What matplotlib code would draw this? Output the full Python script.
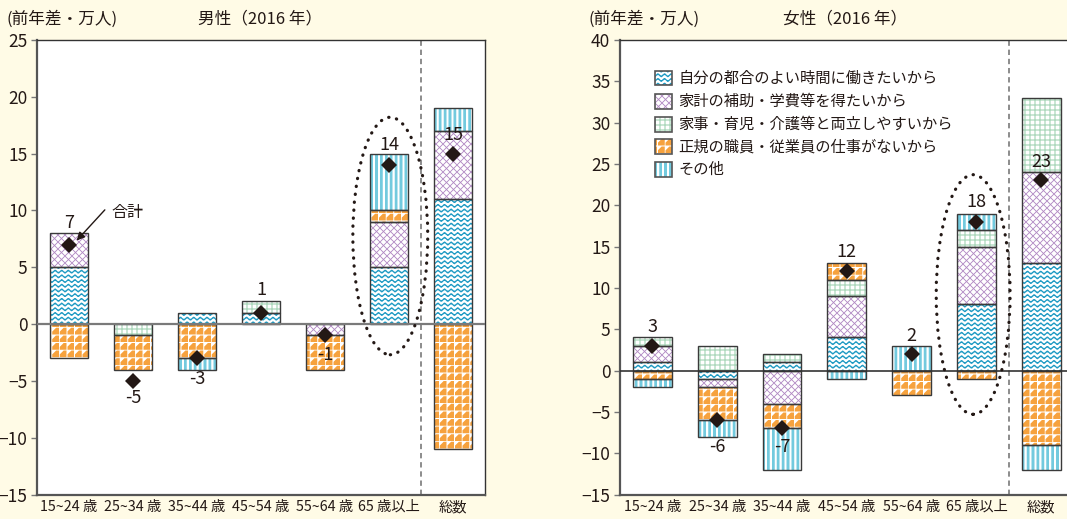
import numpy as np
import matplotlib
matplotlib.use("Agg")
import matplotlib.pyplot as plt
from matplotlib.path import Path
from matplotlib.patches import Ellipse, Rectangle

plt.rcParams["font.family"] = ["Noto Sans CJK JP", "DejaVu Sans"]

# ---------------------------------------------------------------- data
age_groups = ["15~24 歳", "25~34 歳", "35~44 歳", "45~54 歳", "55~64 歳", "65 歳以上", "総数"]
reasons = [
    "自分の都合のよい時間に働きたいから",
    "家計の補助・学費等を得たいから",
    "家事・育児・介護等と両立しやすいから",
    "正規の職員・従業員の仕事がないから",
    "その他",
]

# change from previous year, 10k persons
male_convenient = [5, 0, 1, 1, 0, 5, 11]
male_household = [3, 0, 0, 0, -1, 4, 6]
male_family = [0, -1, 0, 1, 0, 0, 0]
male_no_regular = [-3, -3, -3, 0, -3, 1, -11]
male_other = [0, 0, -1, 0, 0, 5, 2]
male_total = [7, -5, -3, 1, -1, 14, 15]

female_convenient = [1, -1, 1, 4, 0, 8, 13]
female_household = [2, -1, -4, 5, 0, 7, 11]
female_family = [1, 3, 1, 2, 0, 2, 9]
female_no_regular = [-1, -4, -3, 2, -3, -1, -9]
female_other = [-1, -2, -5, -1, 3, 2, -3]
female_total = [3, -6, -7, 12, 2, 18, 23]

# ---------------------------------------------------------------- layout
W, H = 1067, 519
BG = "#FFFBE6"
INK = "#231815"
EDGE = "#3a3a3a"
male_label_y = [8.9, -6.5, -4.8, 3.0, -2.7, 15.8, 16.6]
female_label_y = [5.3, -9.3, -9.3, 14.3, 4.2, 20.4, 25.2]

BLUE = np.array([0x1E, 0x9A, 0xC3]) / 255
PURPLE = np.array([0xB2, 0x8A, 0xC4]) / 255
GREEN = np.array([0x96, 0xCD, 0xAA]) / 255
ORANGE = np.array([0xF6, 0xA2, 0x3E]) / 255
SKY = np.array([0x74, 0xCA, 0xDE]) / 255
PATTERNS = ["wave", "lattice", "grid", "triangle", "stripe"]


def pattern_rgba(kind, h, w, ss=4):
    """Pixel-aligned fill texture with a little supersampling for soft edges."""
    yy, xx = np.mgrid[0:h * ss, 0:w * ss].astype(float)
    yy = (yy + 0.5) / ss
    xx = (xx + 0.5) / ss
    if kind == "wave":
        sp, per, amp, th = 4.7, 6.6, 1.05, 1.8
        yc = yy - amp * np.sin(2 * np.pi * xx / per)
        d = np.abs((yc % sp) - sp / 2)
        cov, col = d < th / 2, BLUE
    elif kind == "lattice":
        s, th = 7.0, 1.25
        a = np.abs(((xx + yy) % s) - s / 2)
        b = np.abs(((xx - yy) % s) - s / 2)
        cov, col = (a > s / 2 - th / 2) | (b > s / 2 - th / 2), PURPLE
    elif kind == "grid":
        s, th = 5.0, 1.1
        a = np.abs((xx % s) - s / 2)
        b = np.abs((yy % s) - s / 2)
        cov, col = (a > s / 2 - th / 2) | (b > s / 2 - th / 2), GREEN
    elif kind == "triangle":
        # orange cells with a white triangle cut from the upper-left corner
        s, gap = 7.6, 0.9
        u = xx % s
        v = yy % s
        cov = (u + v > s * 0.5) & (u < s - gap) & (v < s - gap)
        col = ORANGE
    else:  # stripe
        s = 4.9
        cov, col = (xx % s) < 2.8, SKY
    cov = cov.astype(float).reshape(h, ss, w, ss).mean(axis=(1, 3))
    rgb = 1 - cov[..., None] * (1 - col[None, None, :])
    return np.dstack([rgb, np.ones((h, w))])


def add_axes_px(left, top, right, bottom):
    return fig.add_axes([left / W, 1 - bottom / H, (right - left) / W, (bottom - top) / H])


def rect_path(x0, y0, w, h):
    return Path([(x0, y0), (x0 + w, y0), (x0 + w, y0 + h), (x0, y0 + h), (x0, y0)],
                [Path.MOVETO, Path.LINETO, Path.LINETO, Path.LINETO, Path.CLOSEPOLY])


def draw_panel(ax, px_size, series, totals, label_y, ylim, zero_color, zero_lw,
               extra_clips=None):
    ax.set_facecolor("white")
    x = np.arange(len(age_groups))
    pos = np.zeros(len(x))
    neg = np.zeros(len(x))
    wpx, hpx = px_size
    for k, vals in enumerate(series):
        vals = np.asarray(vals, dtype=float)
        bottom = np.where(vals >= 0, pos, neg)
        bars = ax.bar(x, vals, width=0.6, bottom=bottom, facecolor="none",
                      edgecolor=[EDGE if v != 0 else "none" for v in vals],
                      linewidth=1.0, zorder=3)
        pos += np.clip(vals, 0, None)
        neg += np.clip(vals, None, 0)
        pieces = [b.get_patch_transform().transform_path(b.get_path())
                  for b, v in zip(bars, vals) if v != 0]
        if extra_clips is not None:
            pieces.append(extra_clips[k])
        if not pieces:
            continue
        clip = Path.make_compound_path(*pieces)
        im = ax.imshow(pattern_rgba(PATTERNS[k], hpx, wpx),
                       extent=(-0.5, 6.5, ylim[0], ylim[1]), origin="upper",
                       aspect="auto", interpolation="nearest", zorder=2)
        im.set_clip_path(clip, ax.transData)

    ax.plot(x, totals, linestyle="none", marker="D", markersize=8,
            color=INK, markeredgewidth=0, zorder=6)
    for xi, v, ly in zip(x, totals, label_y):
        ax.text(xi, ly, str(v), ha="center", va="center", fontsize=13,
                color=INK, zorder=7)

    ax.axhline(0, color=zero_color, lw=zero_lw, zorder=4)
    ax.axvline(5.5, color="#6e6e6e", lw=1.1, ls=(0, (3.5, 2.5)), zorder=1)

    ax.set_xlim(-0.5, 6.5)
    ax.set_ylim(*ylim)
    ax.set_yticks(np.arange(ylim[0], ylim[1] + 1, 5))
    ax.set_xticks(x)
    ax.set_xticklabels(age_groups)
    ax.tick_params(axis="y", direction="out", length=4, width=1, color="#777777",
                   labelsize=12.5, labelcolor=INK, pad=3)
    ax.tick_params(axis="x", length=0, labelsize=10.3, labelcolor=INK, pad=4)
    for side in ("left", "bottom"):
        ax.spines[side].set_color("#555555")
        ax.spines[side].set_linewidth(1.6)
    for side in ("top", "right"):
        ax.spines[side].set_color("#333333")
        ax.spines[side].set_linewidth(1.0)


def dotted_ellipse(ax, center, width, height):
    e = Ellipse(center, width, height, fill=False, edgecolor=INK, lw=2.3,
                linestyle=(0, (0.1, 2.4)), capstyle="round", zorder=5)
    ax.add_patch(e)


fig = plt.figure(figsize=(W / 100, H / 100), dpi=100, facecolor=BG)

# ---------------------------------------------------------------- male
ax_m = add_axes_px(37, 40, 485, 494.5)
draw_panel(ax_m, (448, 455),
           [male_convenient, male_household, male_family, male_no_regular, male_other],
           male_total, male_label_y, (-15, 25), "#7a7a7a", 1.6)
dotted_ellipse(ax_m, (5.02, 7.75), 1.17, 20.9)
ax_m.annotate("", xy=(0.12, 7.35), xytext=(0.56, 10.05),
              arrowprops=dict(arrowstyle="-|>", color=INK, lw=1.0,
                              mutation_scale=12, shrinkA=0, shrinkB=0), zorder=7)
ax_m.text(0.66, 9.8, "合計", ha="left", va="center", fontsize=11.5, color=INK, zorder=7)

# ---------------------------------------------------------------- female
f_left, f_right = 620, 620 + 7 * 64.8
leg_x0, leg_w, leg_h = 0.035, 0.265, 1.8
leg_rows = [35.4, 32.6, 29.8, 27.1, 24.3]
leg_paths = [rect_path(leg_x0, yc - leg_h / 2, leg_w, leg_h) for yc in leg_rows]

ax_f = add_axes_px(f_left, 40, f_right, 494.5)
draw_panel(ax_f, (int(round(f_right - f_left)), 455),
           [female_convenient, female_household, female_family, female_no_regular, female_other],
           female_total, female_label_y, (-15, 40), "#333333", 1.2,
           extra_clips=leg_paths)
dotted_ellipse(ax_f, (4.95, 9.2), 1.14, 29.0)

for yc, name in zip(leg_rows, reasons):
    ax_f.add_patch(Rectangle((leg_x0, yc - leg_h / 2), leg_w, leg_h, facecolor="none",
                             edgecolor="#555555", lw=1.2, zorder=4))
    ax_f.text(leg_x0 + leg_w + 0.1, yc, name, ha="left", va="center",
              fontsize=11, color=INK, zorder=7)

# ---------------------------------------------------------------- headings
for unit_x, title_x, title in [(7, 198, "男性（2016 年）"), (588, 783, "女性（2016 年）")]:
    fig.text(unit_x / W, 1 - 19 / H, "(前年差・万人)", ha="left", va="center",
             fontsize=12, color=INK)
    fig.text(title_x / W, 1 - 19 / H, title, ha="left", va="center",
             fontsize=12, color=INK)

fig.savefig("out.png", dpi=100, facecolor=BG)
